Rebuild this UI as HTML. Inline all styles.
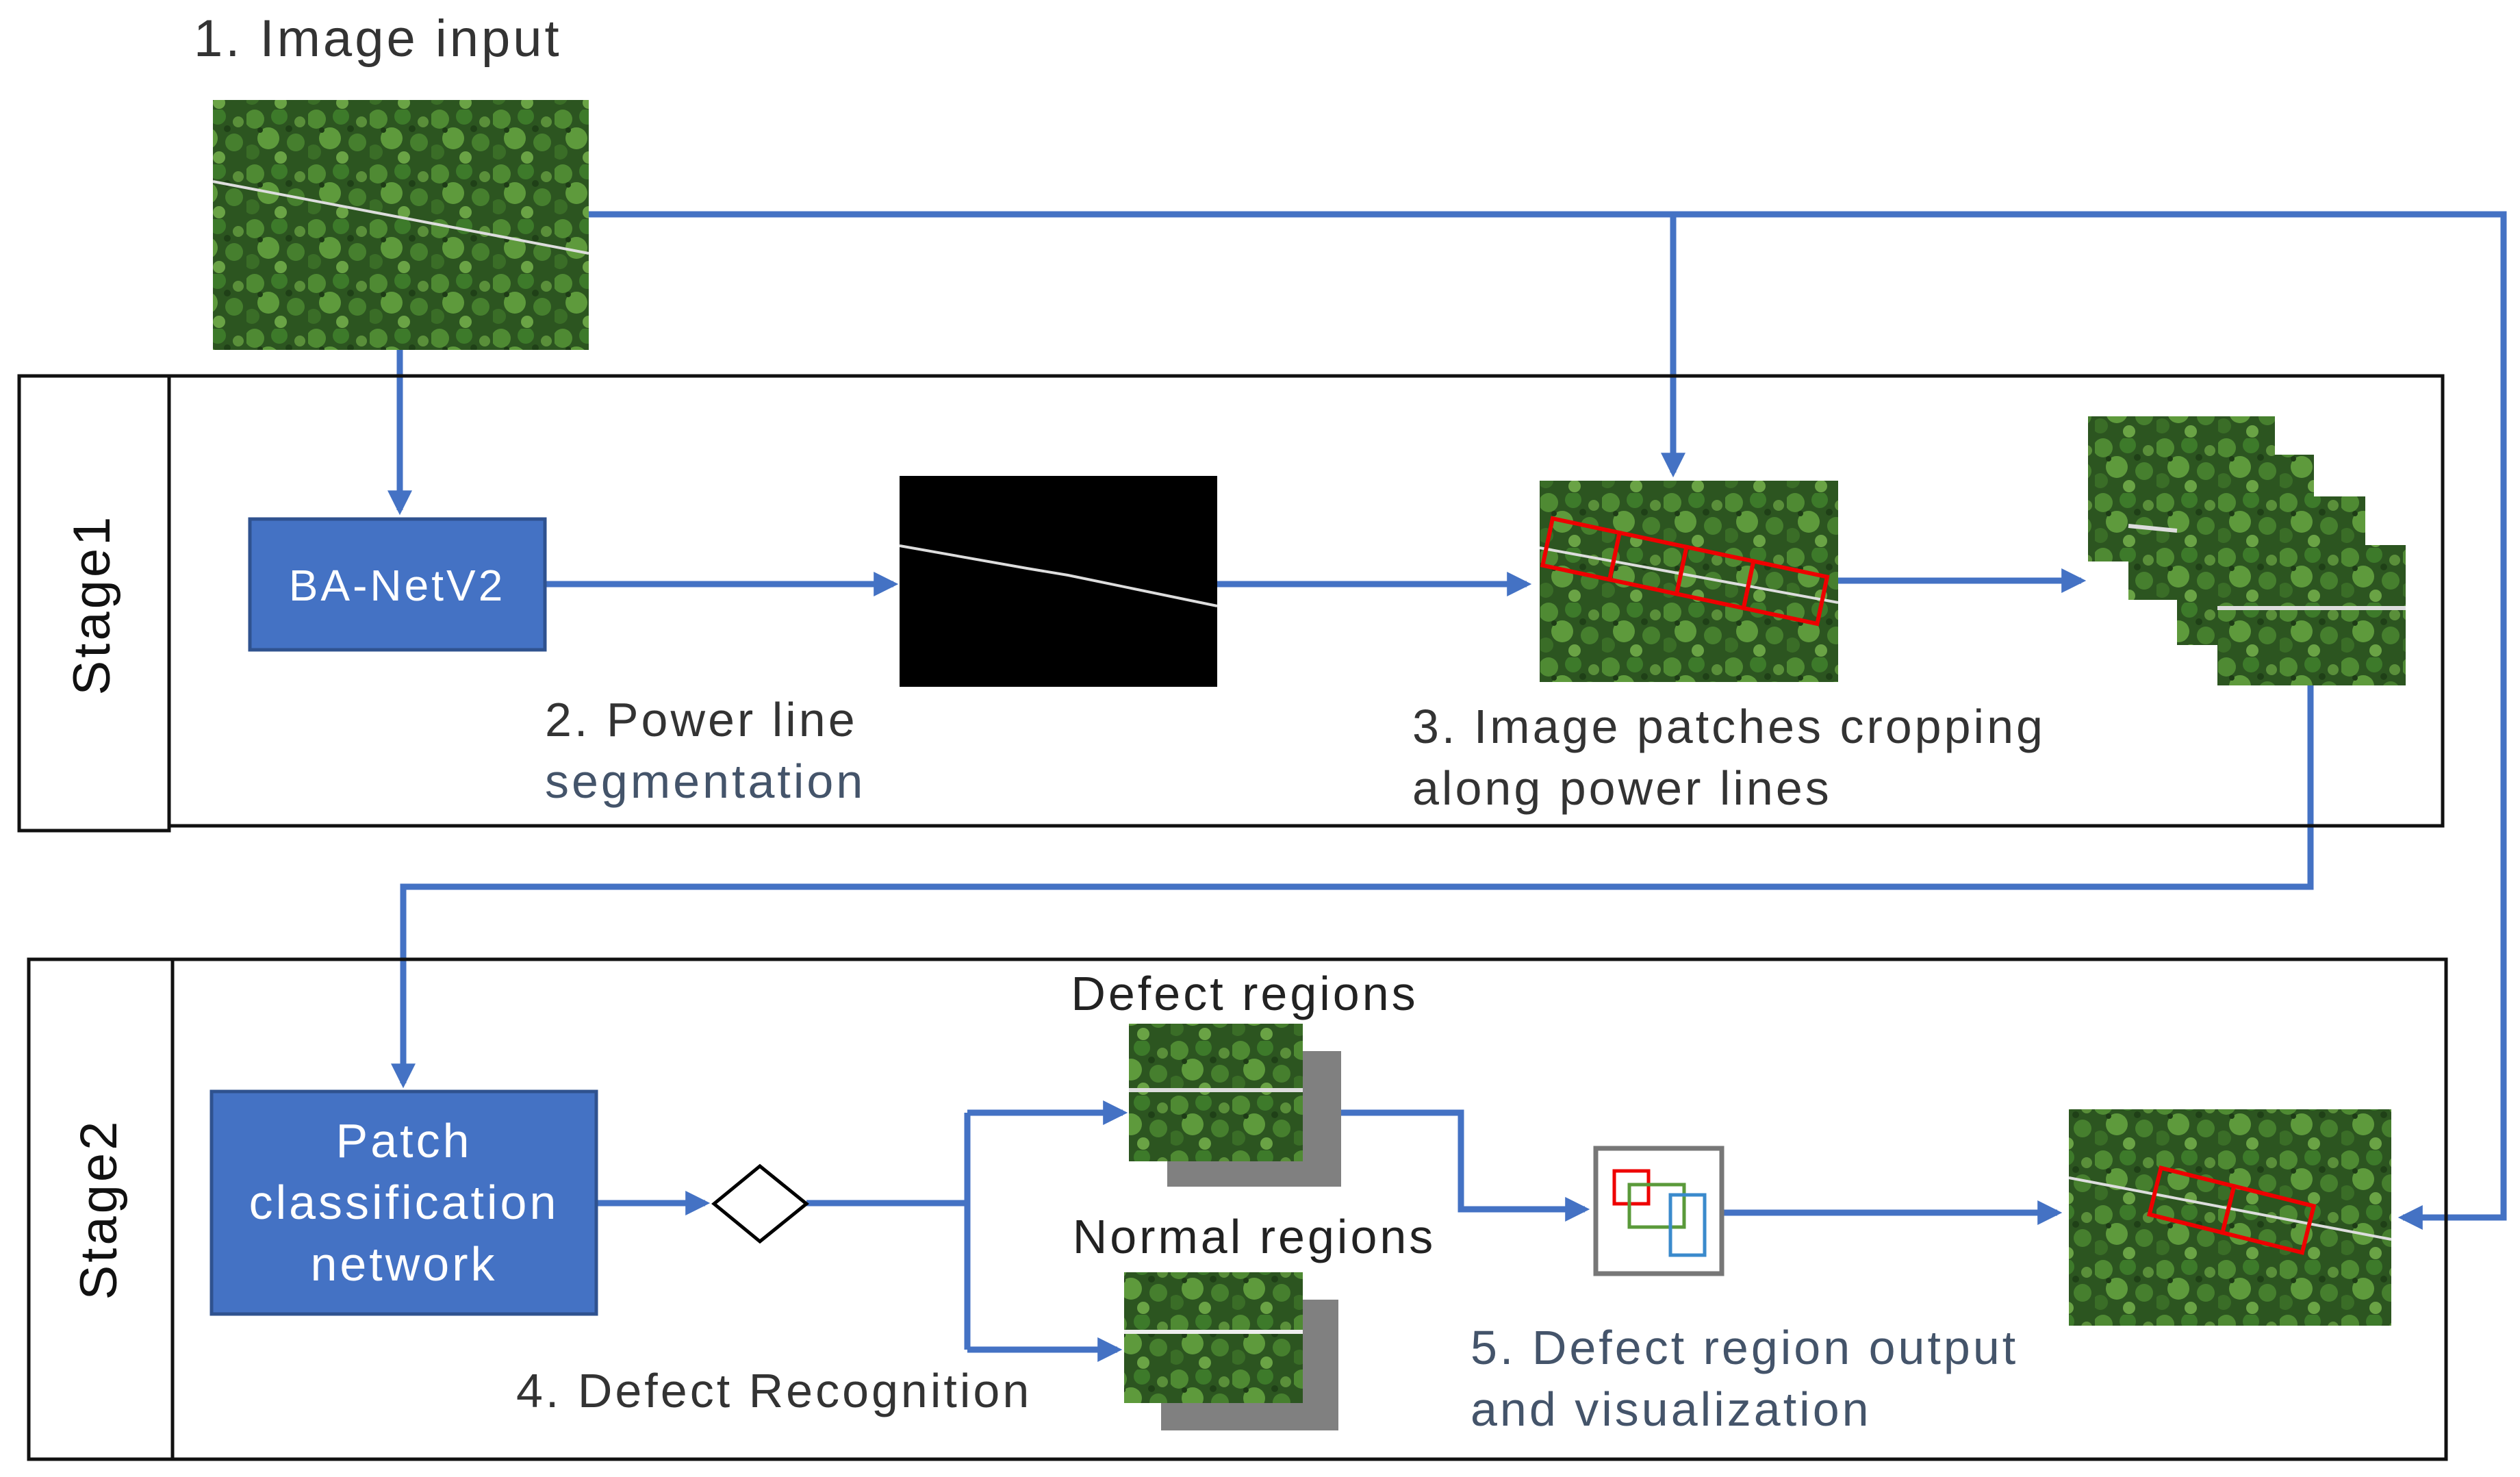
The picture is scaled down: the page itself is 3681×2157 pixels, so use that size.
<!DOCTYPE html>
<html><head><meta charset="utf-8"><style>
html,body{margin:0;padding:0;background:#fff;}
svg{display:block;}
text{font-family:"Liberation Sans","Noto Sans CJK JP",sans-serif;letter-spacing:4px;}
</style></head><body>
<svg width="3681" height="2157" viewBox="0 0 3681 2157" xmlns="http://www.w3.org/2000/svg">
<defs>
<pattern id="f" width="90" height="80" patternUnits="userSpaceOnUse">
<rect width="90" height="80" fill="#2c5520"/>
<circle cx="12" cy="14" r="14" fill="#4f8a33"/>
<circle cx="48" cy="10" r="12" fill="#3d7a2a"/>
<circle cx="32" cy="42" r="16" fill="#5e9a3c"/>
<circle cx="72" cy="48" r="13" fill="#467f2e"/>
<circle cx="8" cy="62" r="11" fill="#3a6d27"/>
<circle cx="50" cy="70" r="9" fill="#6aa345"/>
<circle cx="78" cy="18" r="8" fill="#5a8f3a"/>
<circle cx="20" cy="30" r="4" fill="#1e3c16"/>
<circle cx="62" cy="28" r="5" fill="#1f4017"/>
</pattern>
<marker id="a" markerWidth="4" markerHeight="4" refX="3.2" refY="2" orient="auto" markerUnits="strokeWidth">
<path d="M0,0 L4,2 L0,4 z" fill="#4472c4"/>
</marker>
</defs>

<text x="283" y="82" font-size="76" fill="#333">1. Image input</text>
<rect x="311" y="146" width="549" height="365" fill="url(#f)"/>
<line x1="311" y1="265" x2="860" y2="370" stroke="#ddd" stroke-width="4"/>

<g stroke="#4472c4" stroke-width="9" fill="none">
<polyline points="860,313 3657,313 3657,1778 3510,1778" marker-end="url(#a)"/>
<line x1="2444" y1="313" x2="2444" y2="690" marker-end="url(#a)"/>
<line x1="584" y1="511" x2="584" y2="745" marker-end="url(#a)"/>
<line x1="796" y1="853" x2="1305" y2="853" marker-end="url(#a)"/>
<line x1="1778" y1="853" x2="2230" y2="853" marker-end="url(#a)"/>
<line x1="2685" y1="848" x2="3040" y2="848" marker-end="url(#a)"/>
<polyline points="3375,1001 3375,1295 589,1295 589,1582" marker-end="url(#a)"/>
<line x1="871" y1="1757" x2="1030" y2="1757" marker-end="url(#a)"/>
<line x1="1178" y1="1757" x2="1413" y2="1757"/>
<polyline points="1413,1625 1413,1971"/>
<line x1="1413" y1="1625" x2="1640" y2="1625" marker-end="url(#a)"/>
<line x1="1413" y1="1971" x2="1632" y2="1971" marker-end="url(#a)"/>
<polyline points="1959,1625 2134,1625 2134,1766 2315,1766" marker-end="url(#a)"/>
<line x1="2515" y1="1771" x2="3005" y2="1771" marker-end="url(#a)"/>
</g>

<!-- Stage1 -->
<rect x="28" y="549" width="219" height="664" fill="none" stroke="#111" stroke-width="5"/>
<rect x="247" y="549" width="3321" height="657" fill="none" stroke="#111" stroke-width="5"/>
<text transform="translate(160,883) rotate(-90)" text-anchor="middle" font-size="76" fill="#111">Stage1</text>
<rect x="365" y="758" width="431" height="191" fill="#4472c4" stroke="#2f528f" stroke-width="5"/>
<text x="580" y="877" text-anchor="middle" font-size="64" fill="#fff">BA-NetV2</text>
<rect x="1314" y="695" width="464" height="308" fill="#000"/>
<polyline points="1314,797 1500,830 1560,840 1778,885" fill="none" stroke="#ddd" stroke-width="4"/>
<text x="796" y="1075" font-size="70" fill="#333">2. Power line</text>
<text x="796" y="1165" font-size="70" fill="#44546a">segmentation</text>

<rect x="2249" y="702" width="436" height="294" fill="url(#f)"/>
<line x1="2249" y1="800" x2="2685" y2="880" stroke="#ddd" stroke-width="4"/>
<g transform="rotate(12 2465 840)" fill="none" stroke="#e00" stroke-width="6">
<rect x="2255" y="800" width="100" height="70"/><rect x="2355" y="800" width="100" height="70"/><rect x="2455" y="800" width="100" height="70"/><rect x="2555" y="800" width="110" height="70"/>
</g>
<text x="2063" y="1085" font-size="70" fill="#333">3. Image patches  cropping</text>
<text x="2063" y="1175" font-size="70" fill="#333">along power lines</text>

<rect x="3050" y="608" width="273" height="212" fill="url(#f)"/>
<rect x="3109" y="664" width="271" height="212" fill="url(#f)"/>
<rect x="3180" y="725" width="275" height="217" fill="url(#f)"/>
<rect x="3239" y="796" width="275" height="205" fill="url(#f)"/>
<line x1="3239" y1="888" x2="3514" y2="888" stroke="#ddd" stroke-width="6"/>
<line x1="3109" y1="768" x2="3180" y2="775" stroke="#ddd" stroke-width="6"/>

<!-- Stage2 -->
<rect x="42" y="1401" width="210" height="730" fill="none" stroke="#111" stroke-width="5"/>
<rect x="252" y="1401" width="3321" height="730" fill="none" stroke="#111" stroke-width="5"/>
<text transform="translate(170,1766) rotate(-90)" text-anchor="middle" font-size="76" fill="#111">Stage2</text>
<rect x="309" y="1594" width="562" height="325" fill="#4472c4" stroke="#2f528f" stroke-width="5"/>
<text x="590" y="1690" text-anchor="middle" font-size="70" fill="#fff">Patch</text>
<text x="590" y="1780" text-anchor="middle" font-size="70" fill="#fff">classification</text>
<text x="590" y="1870" text-anchor="middle" font-size="70" fill="#fff">network</text>
<polygon points="1110,1703 1178,1758 1110,1813 1043,1758" fill="#fff" stroke="#000" stroke-width="5"/>

<text x="1818" y="1475" text-anchor="middle" font-size="70" fill="#222">Defect regions</text>
<rect x="1705" y="1535" width="254" height="198" fill="#808080"/>
<rect x="1649" y="1495" width="254" height="201" fill="url(#f)"/>
<line x1="1649" y1="1592" x2="1903" y2="1592" stroke="#ddd" stroke-width="6"/>
<text x="1832" y="1830" text-anchor="middle" font-size="70" fill="#222">Normal regions</text>
<rect x="1696" y="1898" width="259" height="191" fill="#808080"/>
<rect x="1642" y="1858" width="261" height="191" fill="url(#f)"/>
<line x1="1642" y1="1945" x2="1903" y2="1945" stroke="#eee" stroke-width="6"/>
<text x="754" y="2055" font-size="70" fill="#333">4. Defect Recognition</text>

<rect x="2331" y="1677" width="184" height="183" fill="#fff" stroke="#777" stroke-width="7"/>
<rect x="2358" y="1710" width="50" height="48" fill="none" stroke="#e00" stroke-width="5"/>
<rect x="2380" y="1730" width="80" height="62" fill="none" stroke="#5a9a3a" stroke-width="5"/>
<rect x="2440" y="1745" width="50" height="88" fill="none" stroke="#3a8acc" stroke-width="5"/>
<text x="2148" y="1992" font-size="70" fill="#44546a">5. Defect region output</text>
<text x="2148" y="2082" font-size="70" fill="#44546a">and visualization</text>

<rect x="3022" y="1620" width="471" height="316" fill="url(#f)"/>
<line x1="3022" y1="1720" x2="3493" y2="1810" stroke="#ddd" stroke-width="4"/>
<g transform="rotate(14 3250 1765)" fill="none" stroke="#e00" stroke-width="6">
<rect x="3145" y="1730" width="110" height="70"/><rect x="3255" y="1730" width="120" height="70"/>
</g>
</svg>
</body></html>
